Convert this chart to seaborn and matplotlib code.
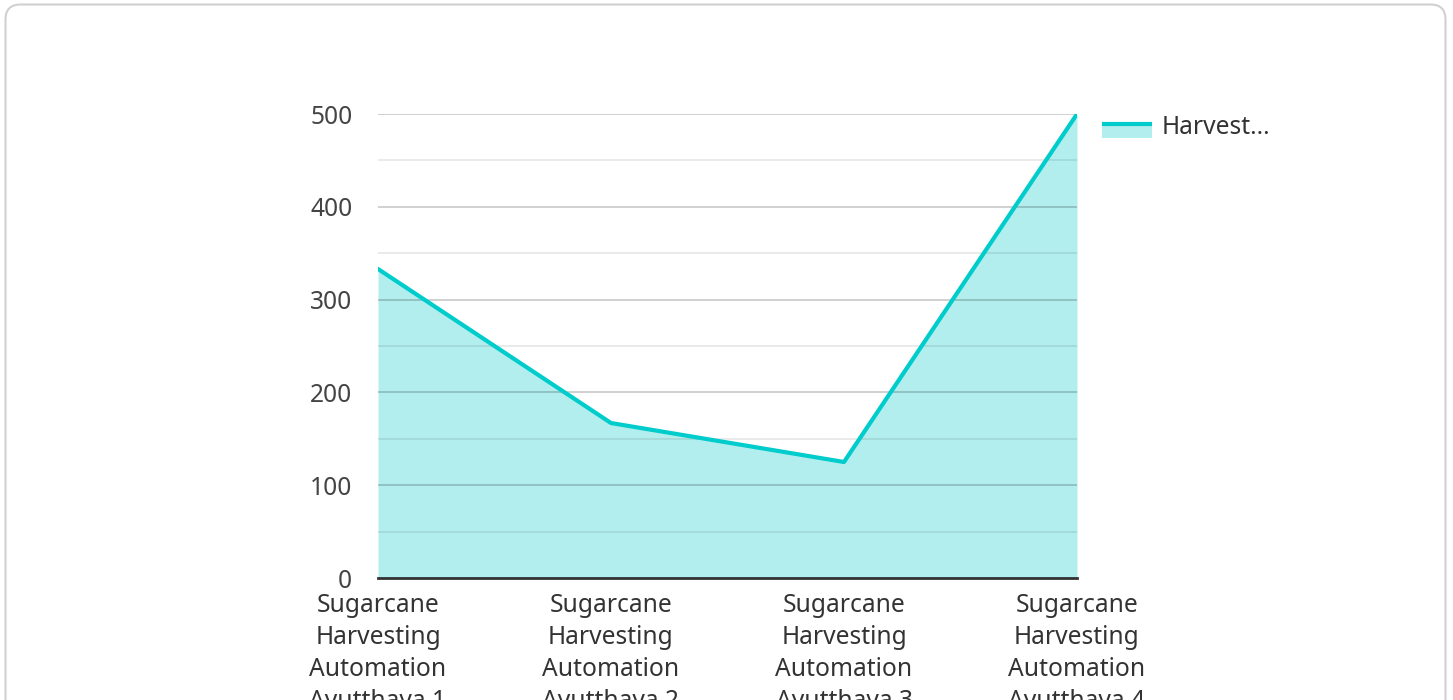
import matplotlib
matplotlib.use("Agg")
import matplotlib.pyplot as plt
import seaborn as sns
import pandas as pd
from matplotlib.patches import FancyBboxPatch, Rectangle
from matplotlib.lines import Line2D

categories = ["Sugarcane\nHarvesting\nAutomation\nAyutthaya 1",
              "Sugarcane\nHarvesting\nAutomation\nAyutthaya 2",
              "Sugarcane\nHarvesting\nAutomation\nAyutthaya 3",
              "Sugarcane\nHarvesting\nAutomation\nAyutthaya 4"]
values = [333, 167, 125, 500]
series_name = "Harvest..."
y_ticks = [0, 100, 200, 300, 400, 500]

LINE = "#00cccc"
FILL = "#b2eeee"
FS = 17.7

sns.set_theme(style="white")
plt.rcParams['font.family'] = ['Noto Sans', 'DejaVu Sans']

W, H = 1453, 700
fig = plt.figure(figsize=(W / 100, H / 100), dpi=100)
fig.patch.set_facecolor("white")

# card
card = FancyBboxPatch((5.5, -40), 1440, 735.5,
                      boxstyle="round,pad=0,rounding_size=15",
                      transform=None, facecolor="none",
                      edgecolor="#d0d0d0", linewidth=1.5, zorder=-5)
fig.patches.append(card)

left, right = 378 / W, 1077 / W
top, bottom = 1 - 114 / H, 1 - 578 / H
ax = fig.add_axes([left, bottom, right - left, top - bottom])
ax.set_facecolor("none")
ax.set_zorder(2)

df = pd.DataFrame({"cat": categories, "val": values})
xs = list(range(len(categories)))
ax.fill_between(xs, 0, df["val"], color=FILL, linewidth=0, zorder=1)
sns.lineplot(x=xs, y=df["val"].values, ax=ax, color=LINE, linewidth=3, zorder=3, legend=False)

ax.set_xlim(0, len(categories) - 1)
ax.set_ylim(0, 500)
ax.set_yticks(y_ticks)
ax.set_yticks([50, 150, 250, 350, 450], minor=True)
ax.set_xticks(xs)
ax.set_xticklabels(categories)
ax.grid(True, which="major", axis="y", color="black", alpha=0.2, linewidth=1.3, zorder=2)
ax.grid(True, which="minor", axis="y", color="black", alpha=0.09, linewidth=1.3, zorder=2)
ax.grid(False, axis="x")
ax.set_axisbelow(False)
for s in ["top", "right", "left"]:
    ax.spines[s].set_visible(False)
ax.spines["bottom"].set_color("#333333")
ax.spines["bottom"].set_linewidth(2)
ax.spines["bottom"].set_zorder(4)
ax.tick_params(axis="y", which="both", length=0, pad=18.5, labelsize=FS, labelcolor="#444444")
ax.tick_params(axis="x", length=0, pad=11, labelsize=FS, labelcolor="#333333")
for lbl in ax.get_xticklabels():
    lbl.set_linespacing(1.37)
ax.set_xlabel("")
ax.set_ylabel("")

# legend
fig.patches.append(Rectangle((1102, H - 138), 50, 16, transform=None,
                             facecolor=FILL, edgecolor="none", zorder=5))
fig.lines.append(Line2D([1102, 1152], [H - 123.5, H - 123.5], transform=None,
                        color=LINE, linewidth=3, zorder=6, solid_capstyle="butt"))
fig.text(1162 / W, 1 - 127 / H, series_name, fontsize=FS, color="#333333",
         ha="left", va="center")

fig.savefig("out.png", dpi=100, facecolor="white")
